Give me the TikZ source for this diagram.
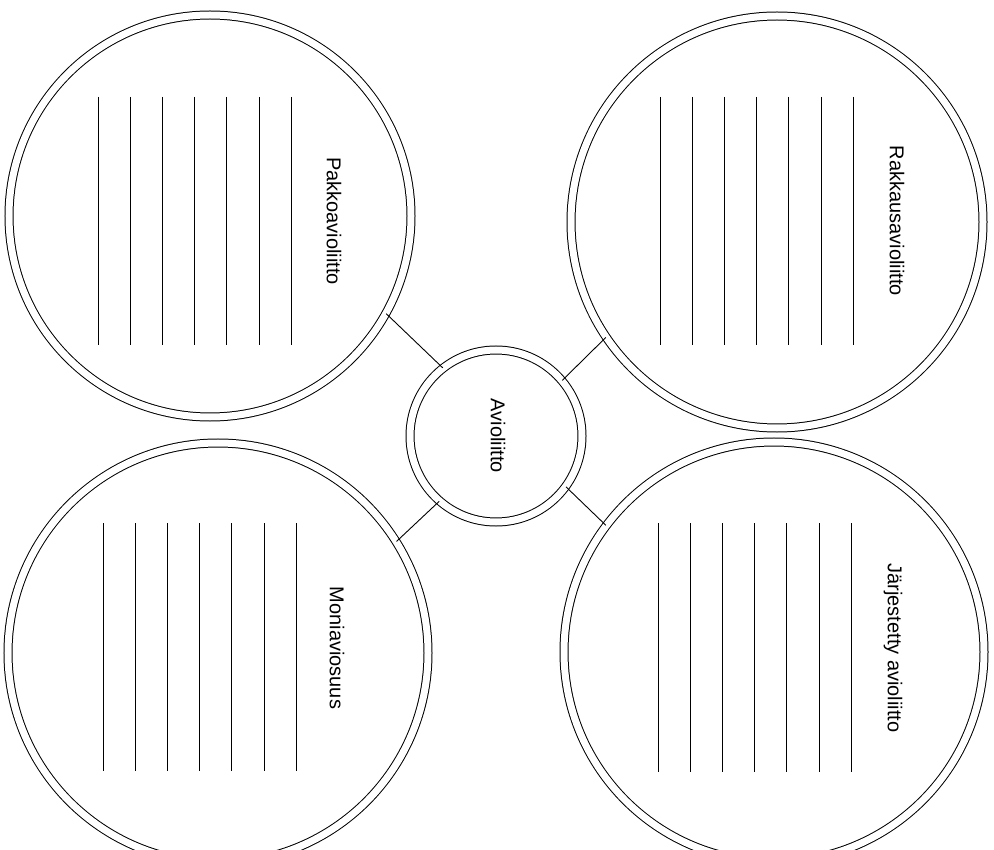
\documentclass[tikz,border=0pt]{standalone}
\usepackage{fontspec}
\setmainfont{Liberation Sans}
\begin{document}
\begin{tikzpicture}[x=1pt, y=-1pt, line width=1pt,
  ring/.style={circle, draw, double, double distance=7pt, inner sep=0pt, minimum size=#1},
  lbl/.style={rotate=-90, inner sep=0pt, font=\fontsize{20}{24}\selectfont},
  link/.style={line width=0.9pt}]
\useasboundingbox (0,0) rectangle (994,850);
\clip (0,0) rectangle (994,850);
\node[ring=402pt] (pakko) at (210,216) {};
\node[ring=412pt] (rakkaus) at (777,222) {};
\node[ring=420pt] (moni) at (218,653) {};
\node[ring=420pt] (jarj) at (774,652) {};
\node[ring=172pt] (avio) at (496,436) {};
\node[lbl] (avio-lbl) at (498,436) {Avioliitto};
\node[lbl] (pakko-lbl) at (334,221) {Pakkoavioliitto};
\node[lbl] (rakkaus-lbl) at (897,221) {Rakkausavioliitto};
\node[lbl] (moni-lbl) at (337,648) {Moniaviosuus};
\node[lbl] (jarj-lbl) at (893,648) {Järjestetty avioliitto};
\foreach \i in {0,...,6} {
  \draw (98+32.2*\i,97) -- ++(0,248);
  \draw (660+32.2*\i,97) -- ++(0,248);
  \draw (103+32.2*\i,523) -- ++(0,248);
  \draw (658+32.2*\i,523) -- ++(0,249);
}
\draw[link] (avio.128) -- (pakko.-29);
\draw[link] (avio.40) -- (rakkaus.-146);
\draw[link] (avio.-36) -- (jarj.143);
\draw[link] (avio.-131) -- (moni.32);
\end{tikzpicture}
\end{document}
